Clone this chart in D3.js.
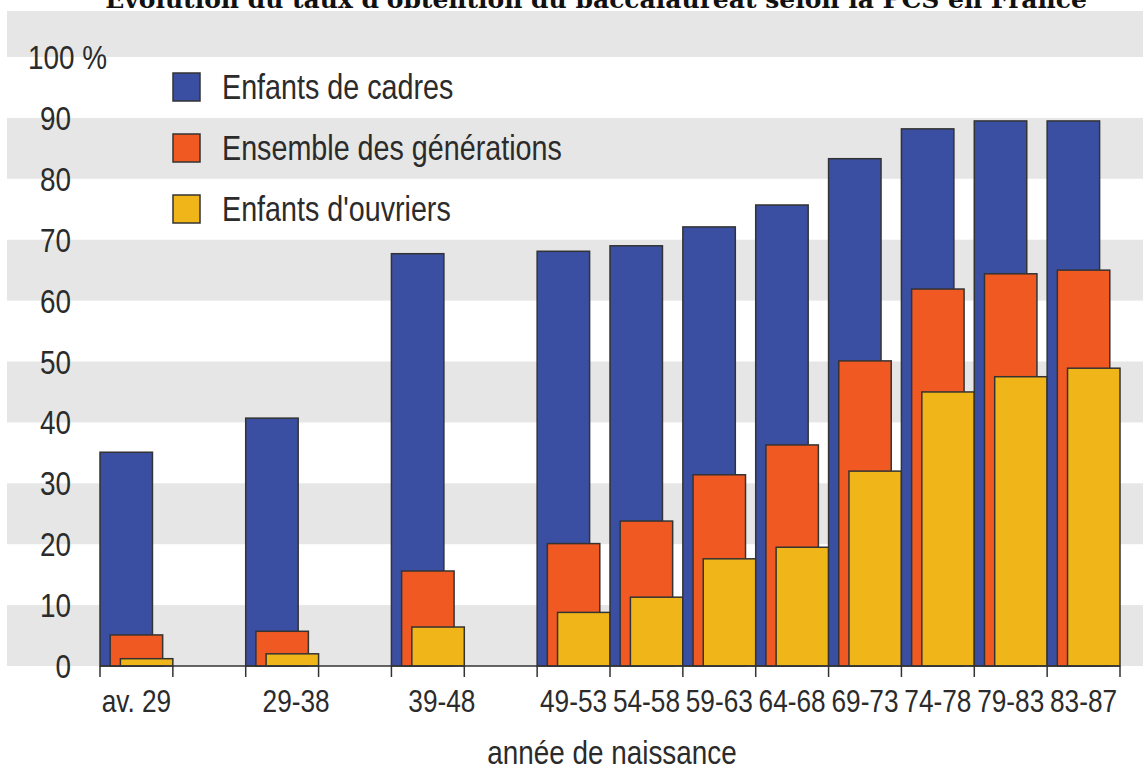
<!DOCTYPE html>
<html>
<head>
<meta charset="utf-8">
<script src="https://cdn.jsdelivr.net/npm/d3@7"></script>
<style>
  body { margin: 0; background: #fff; }
  text { font-family: "Liberation Sans", Arial, sans-serif; fill: #2b2b2b; }
</style>
</head>
<body>
<div id="chart"></div>
<script>
// data
var categories = ["av. 29", "29-38", "39-48", "49-53", "54-58", "59-63", "64-68", "69-73", "74-78", "79-83", "83-87"];
// slot index of each category on the x axis (the first three periods leave an empty slot after them)
var slotIndex = [0, 2, 4, 6, 7, 8, 9, 10, 11, 12, 13];
var cadres    = [35.1, 40.7, 67.7, 68.1, 69.0, 72.1, 75.7, 83.3, 88.2, 89.5, 89.5];
var ensemble  = [5.1, 5.7, 15.6, 20.1, 23.8, 31.4, 36.3, 50.1, 61.9, 64.4, 65.0];
var ouvriers  = [1.2, 2.0, 6.4, 8.8, 11.3, 17.6, 19.5, 32.0, 45.0, 47.5, 48.9];
var seriesNames = ["Enfants de cadres", "Ensemble des générations", "Enfants d'ouvriers"];
var seriesColors = ["#3a4fa1", "#f05a22", "#f0b619"];
var yTicks = [0, 10, 20, 30, 40, 50, 60, 70, 80, 90, 100];
var title = "Évolution du taux d'obtention du baccalauréat selon la PCS en France";
var xTitle = "année de naissance";

var width = 1143, height = 769;
var narrow = 0.82; // squeeze the sans to look like a condensed face

var svg = d3.select("#chart")
    .append("svg")
    .attr("width", width)
    .attr("height", height);

function place(px, py) {
  return "translate(" + px + "," + py + ") scale(" + narrow + ",1)";
}

// scales
var x = d3.scaleBand()
    .domain(d3.range(14))
    .range([100, 1120])
    .paddingInner(0)
    .paddingOuter(0);

var y = d3.scaleLinear()
    .domain([0, 100])
    .range([666, 57]);

var yTop = y.invert(11);

// grey stripes every other 10 %
var stripes = [0, 20, 40, 60, 80, 100];
svg.append("g")
    .selectAll("rect")
    .data(stripes)
    .enter()
    .append("rect")
    .attr("x", 7)
    .attr("width", width - 7)
    .attr("y", d => y(Math.min(d + 10, yTop)))
    .attr("height", d => y(d) - y(Math.min(d + 10, yTop)))
    .style("fill", "#e6e6e6");

// title (top of it falls outside the picture)
svg.append("text")
    .attr("x", 596)
    .attr("y", 8)
    .attr("text-anchor", "middle")
    .style("font-family", "'DejaVu Serif', serif")
    .style("font-weight", "bold")
    .style("font-size", "25px")
    .style("fill", "#111")
    .text(title);

// y labels
svg.append("g")
    .selectAll("text")
    .data(yTicks)
    .enter()
    .append("text")
    .attr("transform", d => d === 100 ? place(28, y(d) + 12) : place(71, y(d) + 12))
    .attr("text-anchor", d => d === 100 ? "start" : "end")
    .style("font-size", "34px")
    .text(d => d === 100 ? "100 %" : d);

// bars
var bw = x.bandwidth();
var series = [cadres, ensemble, ouvriers];
var offsets = [0, 0.14, 0.28];
var barW = 0.72;

var rows = [];
series.forEach(function(vals, s) {
  vals.forEach(function(v, i) {
    rows.push({ s: s, i: i, v: v });
  });
});
rows.sort(function(a, b) { return a.i - b.i || a.s - b.s; });

svg.append("g")
    .selectAll("rect")
    .data(rows)
    .enter()
    .append("rect")
    .attr("x", d => x(slotIndex[d.i]) + offsets[d.s] * bw)
    .attr("width", barW * bw)
    .attr("y", d => y(d.v))
    .attr("height", d => y(0) - y(d.v))
    .style("fill", d => seriesColors[d.s])
    .style("stroke", "#333")
    .style("stroke-width", 1.5);

// x axis
var xAxis = svg.append("g").attr("transform", "translate(0," + y(0) + ")");
xAxis.append("line")
    .attr("x1", x.range()[0])
    .attr("x2", x.range()[1])
    .style("stroke", "#333")
    .style("stroke-width", 1.5);
xAxis.selectAll(".tick")
    .data(d3.range(15))
    .enter()
    .append("line")
    .attr("x1", d => x.range()[0] + d * bw)
    .attr("x2", d => x.range()[0] + d * bw)
    .attr("y1", 0)
    .attr("y2", 11)
    .style("stroke", "#333")
    .style("stroke-width", 1.5);
// the labels of the two wide periods sit a bit right of their slot in the original
xAxis.selectAll("text")
    .data(categories)
    .enter()
    .append("text")
    .attr("transform", (d, i) => place(x(slotIndex[i]) + bw / 2 + (i === 1 || i === 2 ? 14 : 0), 46))
    .attr("text-anchor", "middle")
    .style("font-size", "32px")
    .text(d => d);

svg.append("text")
    .attr("transform", place(612, 764))
    .attr("text-anchor", "middle")
    .style("font-size", "34px")
    .text(xTitle);

// legend
var legend = svg.append("g")
    .selectAll("g")
    .data(seriesNames)
    .enter()
    .append("g")
    .attr("transform", (d, i) => "translate(173," + (73 + i * 61) + ")");
legend.append("rect")
    .attr("width", 27)
    .attr("height", 28)
    .style("fill", (d, i) => seriesColors[i])
    .style("stroke", "#333")
    .style("stroke-width", 1.5);
legend.append("text")
    .attr("transform", place(49, 26))
    .style("font-size", "35px")
    .text(d => d);
</script>
</body>
</html>
